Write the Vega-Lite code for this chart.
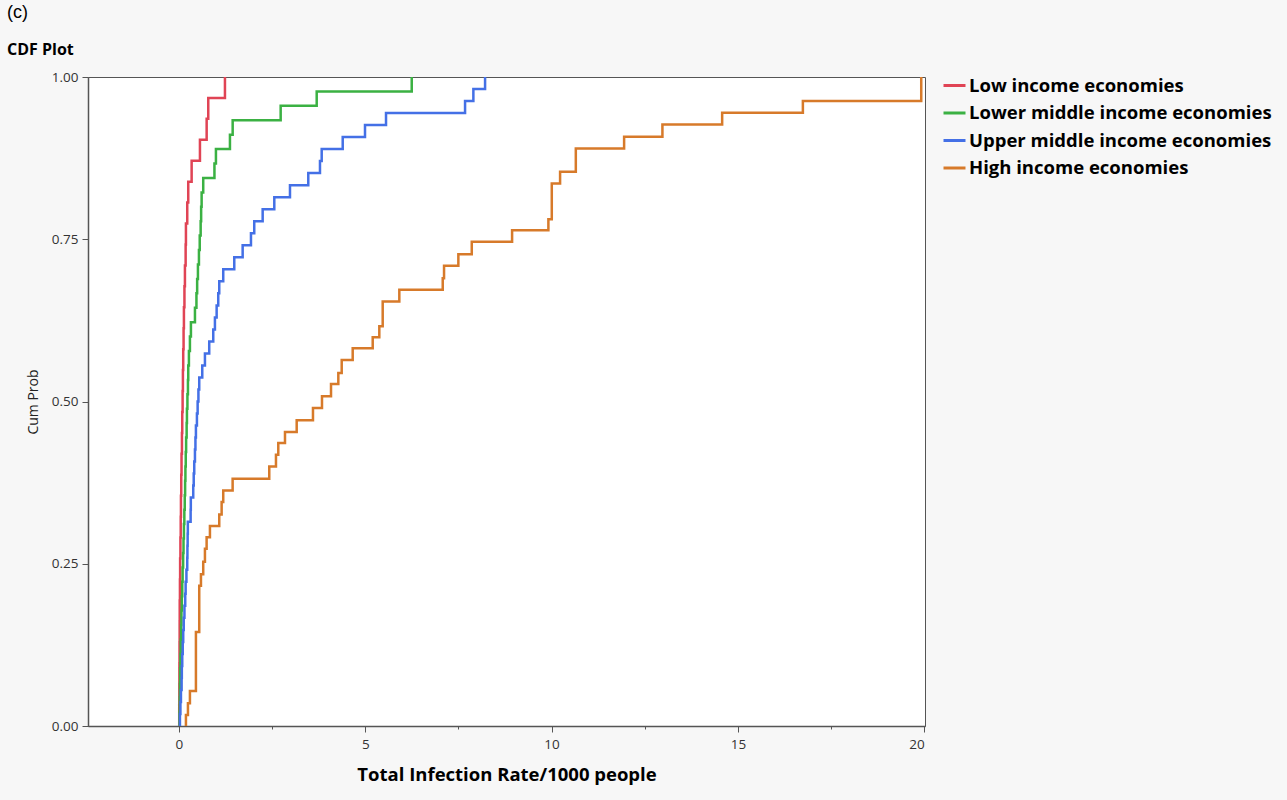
{
  "$schema": "https://vega.github.io/schema/vega-lite/v6.json",
  "width": 837,
  "height": 649,
  "autosize": {"type": "none"},
  "padding": {"left": 88, "top": 77, "right": 362, "bottom": 74},
  "background": "#f7f7f7",
  "title": {
    "text": "(c)",
    "subtitle": "CDF Plot",
    "anchor": "start",
    "frame": "group",
    "dx": -81,
    "offset": 12,
    "font": "Liberation Sans",
    "fontSize": 18,
    "fontWeight": "normal",
    "color": "#000000",
    "subtitleFont": "Open Sans",
    "subtitleFontSize": 16,
    "subtitleFontWeight": "bold",
    "subtitleColor": "#000000",
    "subtitlePadding": 20
  },
  "config": {
    "view": {"fill": "#ffffff", "stroke": "#555555", "strokeWidth": 1},
    "axis": {
      "labelFont": "Open Sans",
      "labelColor": "#333333",
      "labelFontSize": 13.5,
      "domainColor": "#555555",
      "domainWidth": 1.5,
      "tickColor": "#555555",
      "grid": false
    }
  },
  "datasets": {
    "cdf": [
      {"group": "Low income economies", "i": 0, "x": 0.008, "y": 0},
      {"group": "Low income economies", "i": 1, "x": 0.008, "y": 0.0323},
      {"group": "Low income economies", "i": 2, "x": 0.011, "y": 0.0645},
      {"group": "Low income economies", "i": 3, "x": 0.013, "y": 0.0968},
      {"group": "Low income economies", "i": 4, "x": 0.016, "y": 0.129},
      {"group": "Low income economies", "i": 5, "x": 0.019, "y": 0.1613},
      {"group": "Low income economies", "i": 6, "x": 0.021, "y": 0.1935},
      {"group": "Low income economies", "i": 7, "x": 0.027, "y": 0.2258},
      {"group": "Low income economies", "i": 8, "x": 0.032, "y": 0.2581},
      {"group": "Low income economies", "i": 9, "x": 0.040, "y": 0.2903},
      {"group": "Low income economies", "i": 10, "x": 0.048, "y": 0.3226},
      {"group": "Low income economies", "i": 11, "x": 0.054, "y": 0.3548},
      {"group": "Low income economies", "i": 12, "x": 0.062, "y": 0.3871},
      {"group": "Low income economies", "i": 13, "x": 0.070, "y": 0.4194},
      {"group": "Low income economies", "i": 14, "x": 0.081, "y": 0.4516},
      {"group": "Low income economies", "i": 15, "x": 0.089, "y": 0.4839},
      {"group": "Low income economies", "i": 16, "x": 0.099, "y": 0.5161},
      {"group": "Low income economies", "i": 17, "x": 0.107, "y": 0.5484},
      {"group": "Low income economies", "i": 18, "x": 0.115, "y": 0.5806},
      {"group": "Low income economies", "i": 19, "x": 0.125, "y": 0.6129},
      {"group": "Low income economies", "i": 20, "x": 0.134, "y": 0.6452},
      {"group": "Low income economies", "i": 21, "x": 0.148, "y": 0.6774},
      {"group": "Low income economies", "i": 22, "x": 0.161, "y": 0.7097},
      {"group": "Low income economies", "i": 23, "x": 0.180, "y": 0.7419},
      {"group": "Low income economies", "i": 24, "x": 0.188, "y": 0.7742},
      {"group": "Low income economies", "i": 25, "x": 0.223, "y": 0.8065},
      {"group": "Low income economies", "i": 26, "x": 0.250, "y": 0.8387},
      {"group": "Low income economies", "i": 27, "x": 0.341, "y": 0.871},
      {"group": "Low income economies", "i": 28, "x": 0.564, "y": 0.9032},
      {"group": "Low income economies", "i": 29, "x": 0.744, "y": 0.9355},
      {"group": "Low income economies", "i": 30, "x": 0.787, "y": 0.9677},
      {"group": "Low income economies", "i": 31, "x": 1.235, "y": 1.0},

      {"group": "Lower middle income economies", "i": 0, "x": 0.016, "y": 0},
      {"group": "Lower middle income economies", "i": 1, "x": 0.016, "y": 0.0222},
      {"group": "Lower middle income economies", "i": 2, "x": 0.021, "y": 0.0444},
      {"group": "Lower middle income economies", "i": 3, "x": 0.027, "y": 0.0667},
      {"group": "Lower middle income economies", "i": 4, "x": 0.032, "y": 0.0889},
      {"group": "Lower middle income economies", "i": 5, "x": 0.040, "y": 0.1111},
      {"group": "Lower middle income economies", "i": 6, "x": 0.048, "y": 0.1333},
      {"group": "Lower middle income economies", "i": 7, "x": 0.059, "y": 0.1556},
      {"group": "Lower middle income economies", "i": 8, "x": 0.067, "y": 0.1778},
      {"group": "Lower middle income economies", "i": 9, "x": 0.078, "y": 0.2},
      {"group": "Lower middle income economies", "i": 10, "x": 0.089, "y": 0.2222},
      {"group": "Lower middle income economies", "i": 11, "x": 0.099, "y": 0.2444},
      {"group": "Lower middle income economies", "i": 12, "x": 0.113, "y": 0.2667},
      {"group": "Lower middle income economies", "i": 13, "x": 0.123, "y": 0.2889},
      {"group": "Lower middle income economies", "i": 14, "x": 0.134, "y": 0.3111},
      {"group": "Lower middle income economies", "i": 15, "x": 0.145, "y": 0.3333},
      {"group": "Lower middle income economies", "i": 16, "x": 0.156, "y": 0.3556},
      {"group": "Lower middle income economies", "i": 17, "x": 0.166, "y": 0.3778},
      {"group": "Lower middle income economies", "i": 18, "x": 0.174, "y": 0.4},
      {"group": "Lower middle income economies", "i": 19, "x": 0.183, "y": 0.4222},
      {"group": "Lower middle income economies", "i": 20, "x": 0.193, "y": 0.4444},
      {"group": "Lower middle income economies", "i": 21, "x": 0.207, "y": 0.4667},
      {"group": "Lower middle income economies", "i": 22, "x": 0.215, "y": 0.4889},
      {"group": "Lower middle income economies", "i": 23, "x": 0.228, "y": 0.5111},
      {"group": "Lower middle income economies", "i": 24, "x": 0.242, "y": 0.5333},
      {"group": "Lower middle income economies", "i": 25, "x": 0.250, "y": 0.5556},
      {"group": "Lower middle income economies", "i": 26, "x": 0.268, "y": 0.5778},
      {"group": "Lower middle income economies", "i": 27, "x": 0.295, "y": 0.6},
      {"group": "Lower middle income economies", "i": 28, "x": 0.322, "y": 0.6222},
      {"group": "Lower middle income economies", "i": 29, "x": 0.430, "y": 0.6444},
      {"group": "Lower middle income economies", "i": 30, "x": 0.470, "y": 0.6667},
      {"group": "Lower middle income economies", "i": 31, "x": 0.489, "y": 0.6889},
      {"group": "Lower middle income economies", "i": 32, "x": 0.510, "y": 0.7111},
      {"group": "Lower middle income economies", "i": 33, "x": 0.537, "y": 0.7333},
      {"group": "Lower middle income economies", "i": 34, "x": 0.558, "y": 0.7556},
      {"group": "Lower middle income economies", "i": 35, "x": 0.583, "y": 0.7778},
      {"group": "Lower middle income economies", "i": 36, "x": 0.596, "y": 0.8},
      {"group": "Lower middle income economies", "i": 37, "x": 0.609, "y": 0.8222},
      {"group": "Lower middle income economies", "i": 38, "x": 0.652, "y": 0.8444},
      {"group": "Lower middle income economies", "i": 39, "x": 0.953, "y": 0.8667},
      {"group": "Lower middle income economies", "i": 40, "x": 0.993, "y": 0.8889},
      {"group": "Lower middle income economies", "i": 41, "x": 1.369, "y": 0.9111},
      {"group": "Lower middle income economies", "i": 42, "x": 1.442, "y": 0.9333},
      {"group": "Lower middle income economies", "i": 43, "x": 2.730, "y": 0.9556},
      {"group": "Lower middle income economies", "i": 44, "x": 3.697, "y": 0.9778},
      {"group": "Lower middle income economies", "i": 45, "x": 6.247, "y": 1.0},

      {"group": "Upper middle income economies", "i": 0, "x": 0.027, "y": 0},
      {"group": "Upper middle income economies", "i": 1, "x": 0.027, "y": 0.0185},
      {"group": "Upper middle income economies", "i": 2, "x": 0.040, "y": 0.037},
      {"group": "Upper middle income economies", "i": 3, "x": 0.054, "y": 0.0556},
      {"group": "Upper middle income economies", "i": 4, "x": 0.072, "y": 0.0741},
      {"group": "Upper middle income economies", "i": 5, "x": 0.078, "y": 0.0926},
      {"group": "Upper middle income economies", "i": 6, "x": 0.089, "y": 0.1111},
      {"group": "Upper middle income economies", "i": 7, "x": 0.102, "y": 0.1296},
      {"group": "Upper middle income economies", "i": 8, "x": 0.115, "y": 0.1481},
      {"group": "Upper middle income economies", "i": 9, "x": 0.129, "y": 0.1667},
      {"group": "Upper middle income economies", "i": 10, "x": 0.148, "y": 0.1852},
      {"group": "Upper middle income economies", "i": 11, "x": 0.169, "y": 0.2037},
      {"group": "Upper middle income economies", "i": 12, "x": 0.180, "y": 0.2222},
      {"group": "Upper middle income economies", "i": 13, "x": 0.201, "y": 0.2407},
      {"group": "Upper middle income economies", "i": 14, "x": 0.223, "y": 0.2593},
      {"group": "Upper middle income economies", "i": 15, "x": 0.228, "y": 0.2778},
      {"group": "Upper middle income economies", "i": 16, "x": 0.234, "y": 0.2963},
      {"group": "Upper middle income economies", "i": 17, "x": 0.239, "y": 0.3148},
      {"group": "Upper middle income economies", "i": 18, "x": 0.314, "y": 0.3333},
      {"group": "Upper middle income economies", "i": 19, "x": 0.319, "y": 0.3519},
      {"group": "Upper middle income economies", "i": 20, "x": 0.384, "y": 0.3704},
      {"group": "Upper middle income economies", "i": 21, "x": 0.397, "y": 0.3889},
      {"group": "Upper middle income economies", "i": 22, "x": 0.411, "y": 0.4074},
      {"group": "Upper middle income economies", "i": 23, "x": 0.430, "y": 0.4259},
      {"group": "Upper middle income economies", "i": 24, "x": 0.443, "y": 0.4444},
      {"group": "Upper middle income economies", "i": 25, "x": 0.456, "y": 0.463},
      {"group": "Upper middle income economies", "i": 26, "x": 0.483, "y": 0.4815},
      {"group": "Upper middle income economies", "i": 27, "x": 0.502, "y": 0.5},
      {"group": "Upper middle income economies", "i": 28, "x": 0.523, "y": 0.5185},
      {"group": "Upper middle income economies", "i": 29, "x": 0.545, "y": 0.537},
      {"group": "Upper middle income economies", "i": 30, "x": 0.626, "y": 0.5556},
      {"group": "Upper middle income economies", "i": 31, "x": 0.698, "y": 0.5741},
      {"group": "Upper middle income economies", "i": 32, "x": 0.813, "y": 0.5926},
      {"group": "Upper middle income economies", "i": 33, "x": 0.921, "y": 0.6111},
      {"group": "Upper middle income economies", "i": 34, "x": 0.966, "y": 0.6296},
      {"group": "Upper middle income economies", "i": 35, "x": 1.012, "y": 0.6481},
      {"group": "Upper middle income economies", "i": 36, "x": 1.055, "y": 0.6667},
      {"group": "Upper middle income economies", "i": 37, "x": 1.082, "y": 0.6852},
      {"group": "Upper middle income economies", "i": 38, "x": 1.189, "y": 0.7037},
      {"group": "Upper middle income economies", "i": 39, "x": 1.485, "y": 0.7222},
      {"group": "Upper middle income economies", "i": 40, "x": 1.710, "y": 0.7407},
      {"group": "Upper middle income economies", "i": 41, "x": 1.933, "y": 0.7593},
      {"group": "Upper middle income economies", "i": 42, "x": 2.021, "y": 0.7778},
      {"group": "Upper middle income economies", "i": 43, "x": 2.247, "y": 0.7963},
      {"group": "Upper middle income economies", "i": 44, "x": 2.559, "y": 0.8148},
      {"group": "Upper middle income economies", "i": 45, "x": 2.980, "y": 0.8333},
      {"group": "Upper middle income economies", "i": 46, "x": 3.471, "y": 0.8519},
      {"group": "Upper middle income economies", "i": 47, "x": 3.785, "y": 0.8704},
      {"group": "Upper middle income economies", "i": 48, "x": 3.831, "y": 0.8889},
      {"group": "Upper middle income economies", "i": 49, "x": 4.395, "y": 0.9074},
      {"group": "Upper middle income economies", "i": 50, "x": 4.993, "y": 0.9259},
      {"group": "Upper middle income economies", "i": 51, "x": 5.557, "y": 0.9444},
      {"group": "Upper middle income economies", "i": 52, "x": 7.678, "y": 0.963},
      {"group": "Upper middle income economies", "i": 53, "x": 7.901, "y": 0.9815},
      {"group": "Upper middle income economies", "i": 54, "x": 8.215, "y": 1.0},

      {"group": "High income economies", "i": 0, "x": 0.188, "y": 0},
      {"group": "High income economies", "i": 1, "x": 0.188, "y": 0.017},
      {"group": "High income economies", "i": 2, "x": 0.242, "y": 0.035},
      {"group": "High income economies", "i": 3, "x": 0.295, "y": 0.054},
      {"group": "High income economies", "i": 4, "x": 0.456, "y": 0.145},
      {"group": "High income economies", "i": 5, "x": 0.545, "y": 0.216},
      {"group": "High income economies", "i": 6, "x": 0.591, "y": 0.234},
      {"group": "High income economies", "i": 7, "x": 0.652, "y": 0.253},
      {"group": "High income economies", "i": 8, "x": 0.698, "y": 0.273},
      {"group": "High income economies", "i": 9, "x": 0.743, "y": 0.291},
      {"group": "High income economies", "i": 10, "x": 0.832, "y": 0.308},
      {"group": "High income economies", "i": 11, "x": 1.082, "y": 0.326},
      {"group": "High income economies", "i": 12, "x": 1.146, "y": 0.345},
      {"group": "High income economies", "i": 13, "x": 1.189, "y": 0.363},
      {"group": "High income economies", "i": 14, "x": 1.441, "y": 0.381},
      {"group": "High income economies", "i": 15, "x": 2.424, "y": 0.4},
      {"group": "High income economies", "i": 16, "x": 2.604, "y": 0.418},
      {"group": "High income economies", "i": 17, "x": 2.666, "y": 0.436},
      {"group": "High income economies", "i": 18, "x": 2.846, "y": 0.453},
      {"group": "High income economies", "i": 19, "x": 3.160, "y": 0.471},
      {"group": "High income economies", "i": 20, "x": 3.597, "y": 0.49},
      {"group": "High income economies", "i": 21, "x": 3.839, "y": 0.508},
      {"group": "High income economies", "i": 22, "x": 4.081, "y": 0.527},
      {"group": "High income economies", "i": 23, "x": 4.277, "y": 0.544},
      {"group": "High income economies", "i": 24, "x": 4.368, "y": 0.564},
      {"group": "High income economies", "i": 25, "x": 4.663, "y": 0.582},
      {"group": "High income economies", "i": 26, "x": 5.2, "y": 0.599},
      {"group": "High income economies", "i": 27, "x": 5.377, "y": 0.616},
      {"group": "High income economies", "i": 28, "x": 5.468, "y": 0.654},
      {"group": "High income economies", "i": 29, "x": 5.914, "y": 0.672},
      {"group": "High income economies", "i": 30, "x": 7.079, "y": 0.69},
      {"group": "High income economies", "i": 31, "x": 7.114, "y": 0.709},
      {"group": "High income economies", "i": 32, "x": 7.498, "y": 0.727},
      {"group": "High income economies", "i": 33, "x": 7.858, "y": 0.746},
      {"group": "High income economies", "i": 34, "x": 8.94, "y": 0.764},
      {"group": "High income economies", "i": 35, "x": 9.914, "y": 0.781},
      {"group": "High income economies", "i": 36, "x": 10.005, "y": 0.836},
      {"group": "High income economies", "i": 37, "x": 10.228, "y": 0.854},
      {"group": "High income economies", "i": 38, "x": 10.65, "y": 0.89},
      {"group": "High income economies", "i": 39, "x": 11.946, "y": 0.908},
      {"group": "High income economies", "i": 40, "x": 12.974, "y": 0.927},
      {"group": "High income economies", "i": 41, "x": 14.577, "y": 0.945},
      {"group": "High income economies", "i": 42, "x": 16.743, "y": 0.963},
      {"group": "High income economies", "i": 43, "x": 19.919, "y": 1.0}
    ]
  },
  "data": {"name": "cdf"},
  "layer": [
    {
      "mark": {"type": "line", "interpolate": "step-after", "strokeWidth": 2.5},
      "encoding": {
        "x": {
          "field": "x",
          "type": "quantitative",
          "scale": {"domain": [-2.44, 20.02], "nice": false, "zero": false},
          "axis": {
            "values": [0, 5, 10, 15, 20],
            "tickSize": 6,
            "labelPadding": 5,
            "title": "Total Infection Rate/1000 people",
            "titleFont": "Open Sans",
            "titleFontSize": 18.5,
            "titleFontWeight": "bold",
            "titleColor": "#000000",
            "titlePadding": 15
          }
        },
        "y": {
          "field": "y",
          "type": "quantitative",
          "scale": {"domain": [0, 1], "nice": false},
          "axis": {
            "values": [0, 0.25, 0.5, 0.75, 1],
            "format": ".2f",
            "tickSize": 6,
            "labelPadding": 4,
            "title": "Cum Prob",
            "titleFont": "Open Sans",
            "titleFontSize": 14,
            "titleFontWeight": "normal",
            "titleColor": "#222222",
            "titlePadding": 11
          }
        },
        "order": {"field": "i", "type": "quantitative"},
        "color": {
          "field": "group",
          "type": "nominal",
          "sort": ["Low income economies", "Lower middle income economies", "Upper middle income economies", "High income economies"],
          "scale": {
            "domain": ["Low income economies", "Lower middle income economies", "Upper middle income economies", "High income economies"],
            "range": ["#E04455", "#3BB143", "#4470E6", "#D77A2A"]
          },
          "legend": {
            "title": null,
            "orient": "none",
            "legendX": 854,
            "legendY": -4,
            "padding": 0,
            "symbolType": "stroke",
            "symbolSize": 484,
            "symbolStrokeWidth": 3,
            "labelFont": "Open Sans",
            "labelFontSize": 18.5,
            "labelFontWeight": "bold",
            "labelColor": "#000000",
            "labelOffset": 2,
            "labelLimit": 400,
            "rowPadding": 5.5
          }
        }
      }
    },
    {
      "mark": {"type": "point", "opacity": 0},
      "encoding": {
        "x": {
          "field": "x",
          "type": "quantitative",
          "axis": {
            "orient": "bottom",
            "values": [2.5, 7.5, 12.5, 17.5],
            "labels": false,
            "domain": false,
            "tickSize": 3,
            "title": null
          }
        },
        "y": {"field": "y", "type": "quantitative"}
      }
    }
  ],
  "resolve": {"axis": {"x": "independent"}}
}
